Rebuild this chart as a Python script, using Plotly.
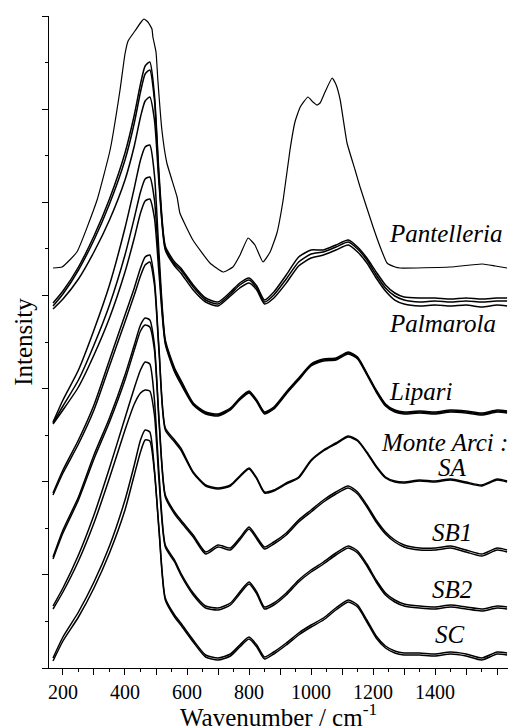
import plotly.graph_objects as go

# ==========================================
# DATA (wavenumber in cm-1, stacked intensity in arbitrary units)
# ==========================================
WAVENUMBER = [168, 200, 250, 300, 350, 400, 430, 450, 465, 480, 495, 510, 530, 560, 580,
              620, 660, 700, 740, 770, 800, 825, 850, 880, 920, 960, 1000, 1040, 1080, 1120,
              1150, 1180, 1210, 1240, 1270, 1300, 1350, 1400, 1450, 1500, 1550, 1600, 1632]

PANTELLERIA_X = [168, 197, 245, 310, 352, 384, 400, 410, 432, 452, 461, 474, 487, 490, 500, 506,
                 519, 535, 568, 577, 619, 674, 716, 748, 771, 797, 819, 845, 868, 890, 910, 932,
                 948, 965, 990, 1006, 1019, 1029, 1045, 1068, 1081, 1094, 1116, 1142, 1158, 1200,
                 1223, 1245, 1271, 1287, 1448, 1552, 1594, 1632]
PANTELLERIA_Y = [400, 401, 416, 468, 518, 578, 614, 627, 637, 646, 649, 646, 639, 631, 616, 588,
                 538, 505, 471, 455, 428, 405, 396, 401, 413, 430, 423, 406, 416, 435, 468, 518,
                 546, 561, 571, 566, 563, 565, 576, 590, 583, 568, 525, 498, 481, 441,
                 421, 405, 401, 400, 401, 404, 402, 400]

PALMAROLA_1 = [365, 377, 401, 432, 469, 515, 553, 584, 602, 606, 573, 493, 422, 406, 400,
               383, 370, 366, 376, 385, 390, 382, 368, 376, 393, 411, 418, 418, 423, 428,
               421, 410, 396, 383, 375, 371, 370, 370, 369, 370, 369, 370, 370]
PALMAROLA_2 = [362, 374, 398, 428, 464, 508, 545, 576, 594, 598, 568, 488, 420, 404, 398,
               381, 368, 364, 374, 383, 388, 380, 366, 373, 389, 406, 414, 416, 421, 426,
               419, 408, 393, 380, 372, 368, 366, 367, 366, 367, 366, 367, 367]
PALMAROLA_3 = [359, 369, 389, 416, 448, 488, 522, 551, 567, 571, 548, 483, 418, 402, 395,
               378, 366, 362, 372, 380, 385, 378, 364, 370, 385, 402, 410, 413, 418, 423,
               416, 405, 390, 377, 368, 364, 362, 363, 362, 363, 361, 363, 362]

LIPARI_1 = [246, 268, 298, 338, 383, 440, 480, 508, 521, 523, 493, 413, 328, 300, 288,
            265, 256, 254, 260, 270, 277, 268, 256, 261, 276, 290, 304, 309, 310, 316,
            311, 295, 278, 264, 258, 256, 257, 256, 258, 257, 255, 258, 257]
LIPARI_2 = [245, 262, 288, 323, 363, 413, 450, 476, 489, 491, 468, 403, 326, 298, 286,
            264, 255, 253, 259, 269, 276, 267, 255, 260, 275, 289, 303, 308, 309, 315,
            310, 294, 277, 263, 257, 255, 256, 255, 257, 256, 254, 257, 256]
LIPARI_3 = [244, 258, 281, 313, 350, 396, 430, 455, 467, 469, 450, 393, 324, 296, 284,
            263, 254, 252, 258, 268, 275, 266, 254, 259, 274, 288, 302, 307, 308, 314,
            309, 293, 276, 262, 256, 254, 255, 254, 256, 255, 253, 256, 255]

SA_1 = [175, 198, 228, 263, 308, 353, 380, 400, 411, 413, 388, 318, 240, 228, 220,
        196, 183, 180, 183, 192, 200, 190, 176, 178, 185, 191, 208, 218, 225, 232,
        228, 216, 202, 191, 187, 186, 188, 187, 189, 186, 183, 189, 187]
SA_2 = [173, 195, 224, 258, 302, 346, 373, 392, 403, 406, 383, 315, 238, 226, 218,
        195, 182, 179, 182, 191, 199, 189, 175, 177, 184, 190, 207, 217, 224, 231,
        227, 215, 201, 190, 186, 185, 187, 186, 188, 185, 182, 188, 186]

SB1_1 = [111, 138, 171, 213, 250, 293, 323, 343, 350, 348, 323, 248, 173, 156, 148,
         133, 116, 123, 120, 130, 141, 131, 121, 126, 135, 148, 158, 168, 176, 182,
         176, 163, 148, 136, 128, 123, 120, 120, 122, 118, 114, 120, 118]
SB1_2 = [109, 135, 168, 209, 246, 288, 318, 337, 343, 341, 318, 245, 171, 154, 146,
         131, 114, 121, 118, 128, 139, 129, 119, 124, 133, 146, 156, 166, 174, 180,
         174, 161, 146, 134, 126, 121, 118, 118, 120, 116, 112, 118, 116]

SB2_1 = [62, 80, 113, 153, 200, 250, 280, 298, 306, 304, 268, 193, 123, 108, 95,
         75, 62, 60, 65, 76, 86, 76, 61, 65, 75, 88, 98, 106, 115, 122,
         117, 104, 88, 75, 68, 64, 62, 61, 63, 61, 59, 62, 61]
SB2_2 = [59, 76, 107, 145, 190, 238, 264, 275, 278, 277, 253, 186, 121, 106, 93,
         73, 60, 58, 63, 74, 84, 74, 59, 63, 73, 86, 96, 104, 113, 120,
         115, 102, 86, 73, 66, 62, 60, 59, 61, 59, 57, 60, 59]

SC_1 = [10, 31, 56, 86, 122, 168, 203, 228, 238, 236, 198, 138, 70, 53, 45,
        28, 13, 10, 14, 23, 31, 23, 11, 16, 25, 35, 43, 50, 60, 68,
        63, 48, 32, 22, 17, 15, 15, 14, 16, 14, 10, 16, 15]
SC_2 = [7, 27, 51, 80, 115, 158, 193, 216, 228, 227, 196, 136, 68, 51, 43,
        26, 11, 8, 12, 21, 29, 21, 9, 14, 23, 33, 41, 48, 58, 66,
        61, 46, 30, 20, 15, 13, 13, 12, 14, 12, 8, 14, 13]

SERIES = [PALMAROLA_1, PALMAROLA_2, PALMAROLA_3, LIPARI_1, LIPARI_2, LIPARI_3,
          SA_1, SA_2, SB1_1, SB1_2, SB2_1, SB2_2, SC_1, SC_2]

X_TICKS = [200, 300, 400, 500, 600, 700, 800, 900, 1000, 1100, 1200, 1300, 1400, 1500, 1600]
X_TICK_TEXT = ['200', ' ', '400', ' ', '600', ' ', '800', ' ', '1000', ' ', '1200', ' ', '1400', ' ', ' ']

FUENTE = 'Times New Roman, Liberation Serif, serif'

# ==========================================
# FIGURE
# ==========================================
fig = go.Figure()

fig.add_trace(go.Scatter(x=PANTELLERIA_X, y=PANTELLERIA_Y, mode='lines',
                         line=dict(color='black', width=1.2, shape='spline', smoothing=0.4)))

for serie in SERIES:
    fig.add_trace(go.Scatter(x=WAVENUMBER, y=serie, mode='lines',
                             line=dict(color='black', width=1.5, shape='spline', smoothing=0.6)))

# sample labels (x, y in data units)
etiquetas = [
    ('Pantelleria', 1245, 435, 'left'),
    ('Palmarola', 1245, 345, 'left'),
    ('Lipari', 1245, 277, 'left'),
    ('Monte Arci :', 1220, 226, 'left'),
    ('SA', 1455, 201, 'center'),
    ('SB1', 1455, 136, 'center'),
    ('SB2', 1455, 79, 'center'),
    ('SC', 1448, 34, 'center'),
]
for texto, x, y, anchor in etiquetas:
    fig.add_annotation(x=x, y=y, text=f'<i>{texto}</i>', showarrow=False,
                       xanchor=anchor, yanchor='middle',
                       font=dict(family=FUENTE, size=25, color='black'))

# x axis title placed under the tick labels
fig.add_annotation(x=0.5, y=-0.0725, xref='paper', yref='paper', yanchor='middle',
                   text='Wavenumber / cm<sup>-1</sup>', showarrow=False,
                   font=dict(family=FUENTE, size=25, color='black'))

fig.update_layout(
    width=508, height=728,
    margin=dict(l=49, r=0, t=16, b=60),
    plot_bgcolor='white', paper_bgcolor='white',
    showlegend=False,
    font=dict(family=FUENTE, color='black'),
)

fig.update_xaxes(
    range=[155, 1635], showline=True, linecolor='black', linewidth=1,
    showgrid=False, zeroline=False, automargin=False,
    ticks='outside', ticklen=6, tickcolor='black',
    tickmode='array', tickvals=X_TICKS, ticktext=X_TICK_TEXT,
    tickfont=dict(family=FUENTE, size=20, color='black'),
    minor=dict(ticks='outside', ticklen=3, tickcolor='black', tick0=0, dtick=50, showgrid=False),
)

fig.update_yaxes(
    range=[0, 652], showline=True, linecolor='black', linewidth=1,
    showgrid=False, zeroline=False, showticklabels=False, automargin=False,
    ticks='outside', ticklen=6, tickcolor='black',
    tickmode='linear', tick0=0, dtick=652 / 7,
    minor=dict(ticks='outside', ticklen=3, tickcolor='black', tick0=0, dtick=652 / 14, showgrid=False),
    title=dict(text='Intensity', font=dict(family=FUENTE, size=25), standoff=2),
)

# the page body has a default 8px margin; remove it so the figure sits at the window origin
fig.write_html("out.html", config={'displayModeBar': False},
               post_script="document.body.style.margin='0';")
